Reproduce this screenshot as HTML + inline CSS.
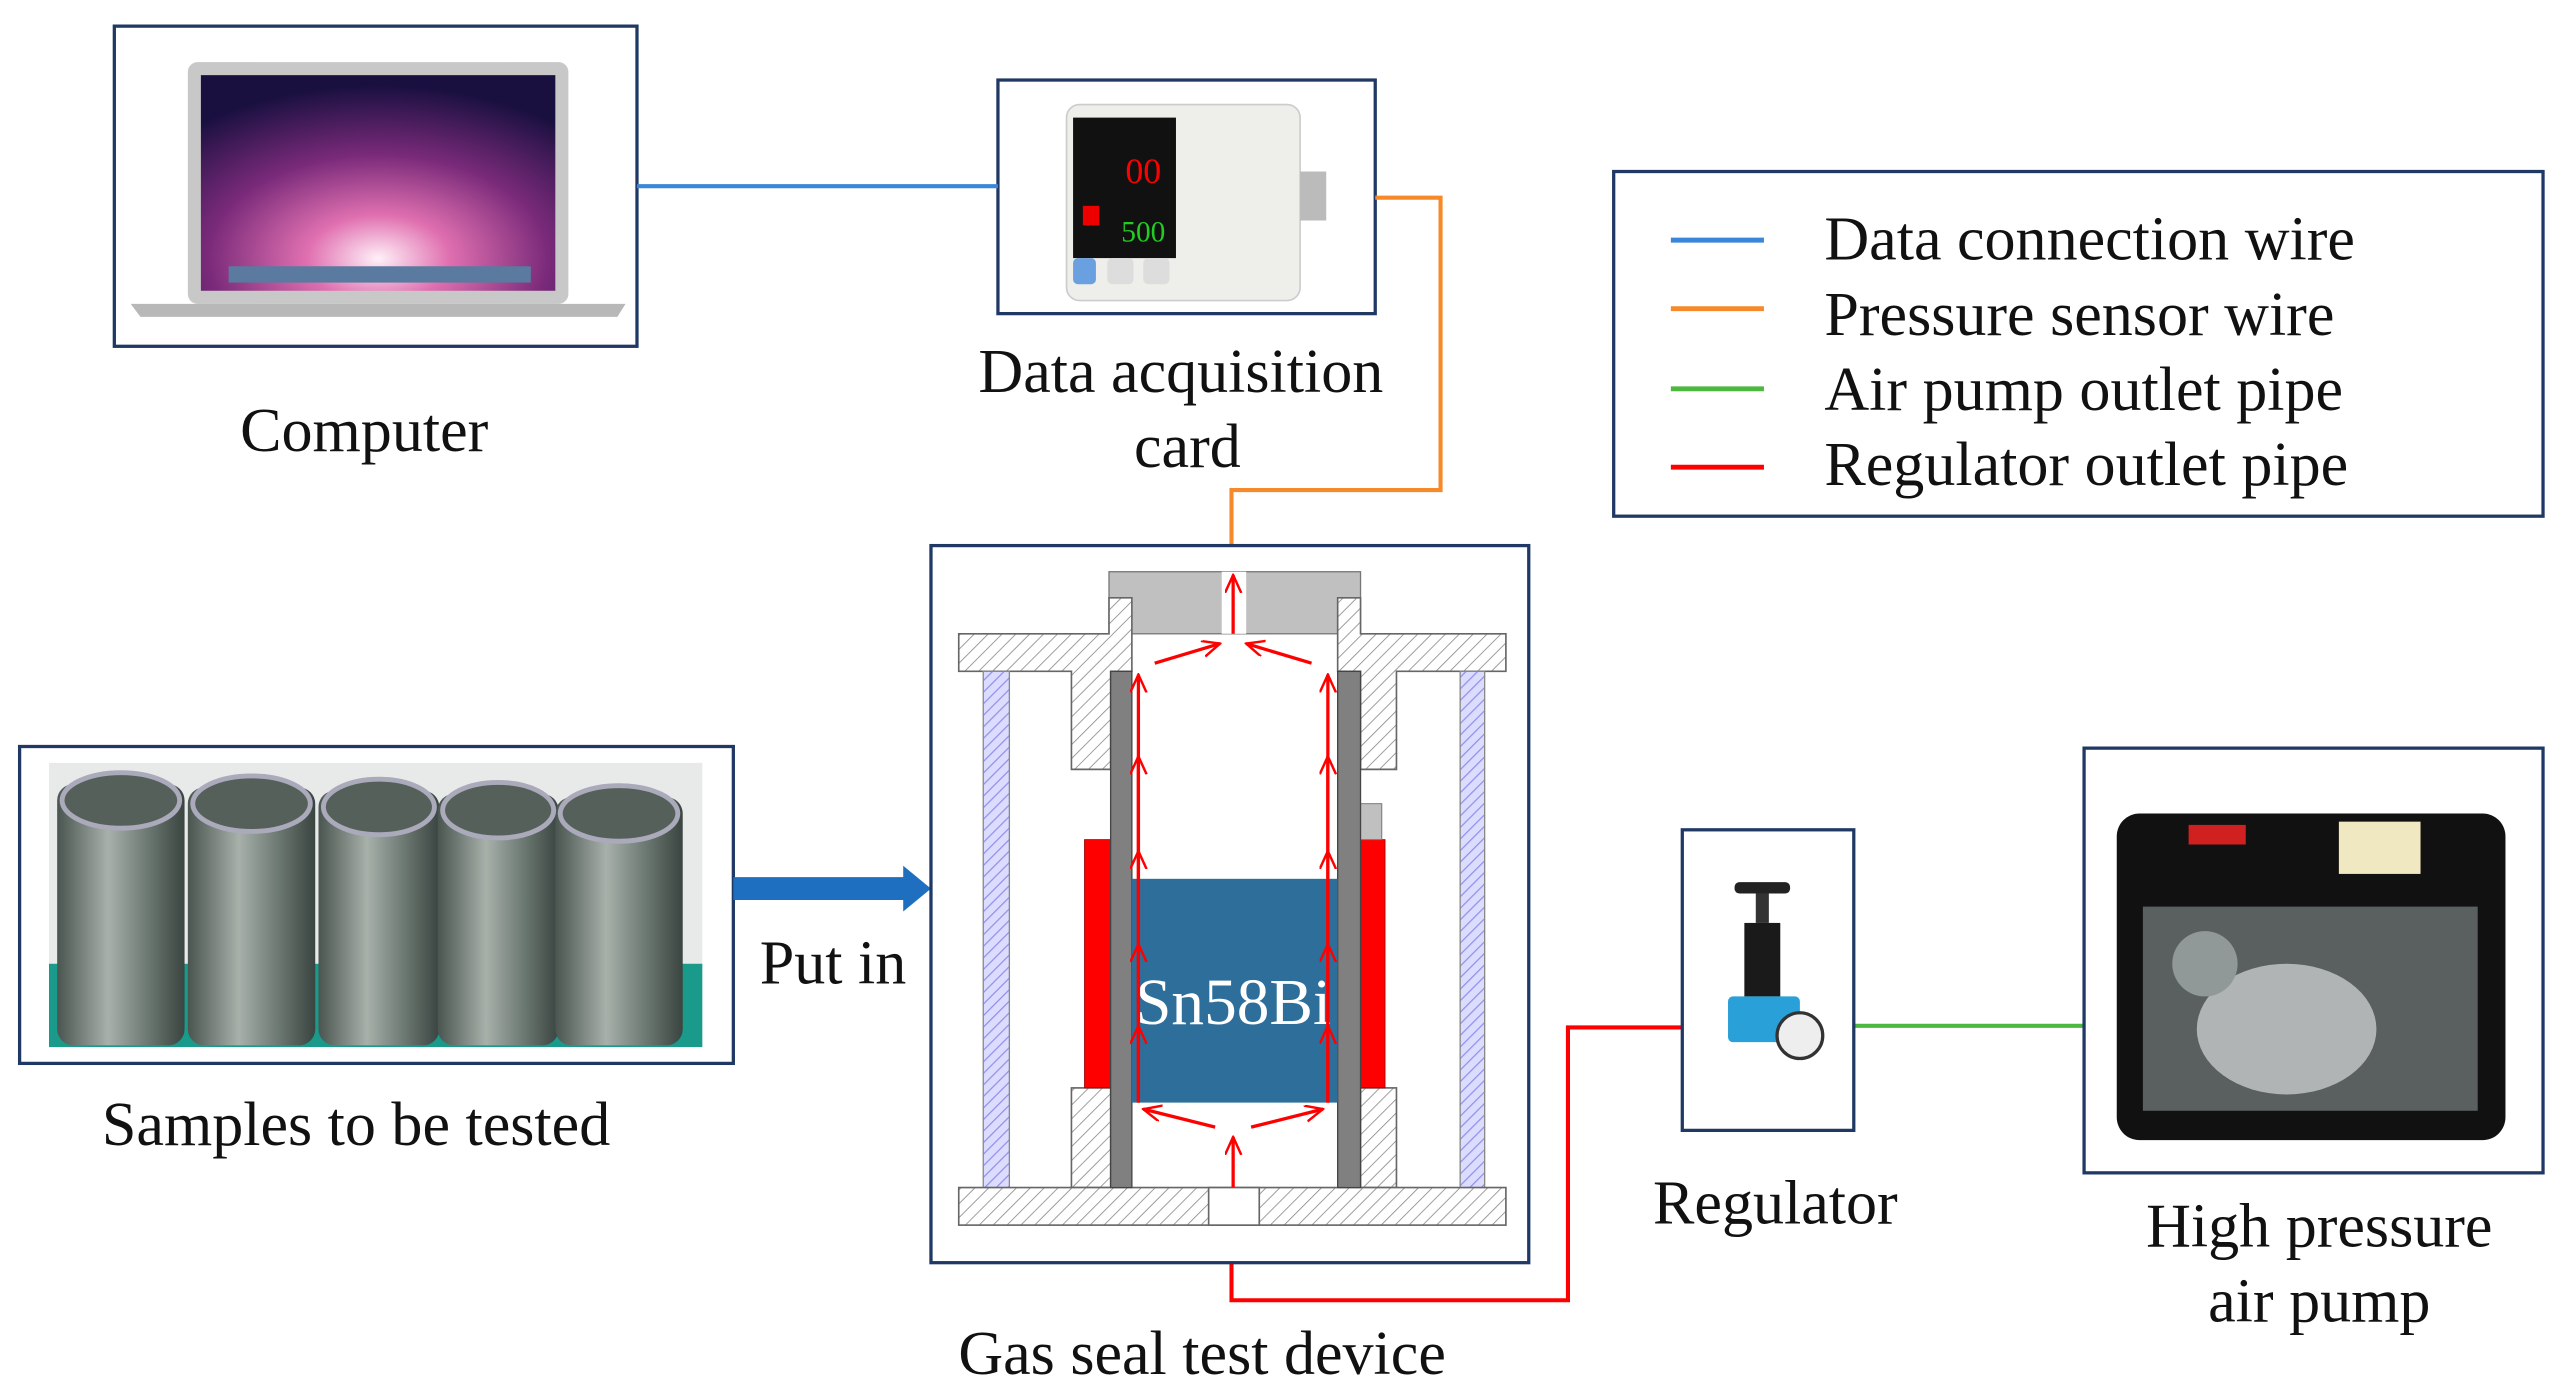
<!DOCTYPE html>
<html><head><meta charset="utf-8"><style>
html,body{margin:0;padding:0;background:#fff;}
svg{display:block;}
text{font-family:"Liberation Serif",serif;fill:#111;}
</style></head><body>
<svg width="2561" height="1395" viewBox="0 0 1568 854" preserveAspectRatio="none" xmlns="http://www.w3.org/2000/svg">
<defs>
<pattern id="h" width="6" height="6" patternUnits="userSpaceOnUse" patternTransform="rotate(45)">
<rect width="6" height="6" fill="#fff"/><line x1="0" y1="0" x2="0" y2="6" stroke="#888" stroke-width="1"/></pattern>
<pattern id="hb" width="5" height="5" patternUnits="userSpaceOnUse" patternTransform="rotate(45)">
<rect width="5" height="5" fill="#dcdcff"/><line x1="0" y1="0" x2="0" y2="5" stroke="#9090e8" stroke-width="1.5"/></pattern>
<radialGradient id="gal" cx="0.5" cy="0.85" r="0.8"><stop offset="0" stop-color="#fff0f8"/><stop offset="0.25" stop-color="#e070b0"/><stop offset="0.6" stop-color="#7a2a7a"/><stop offset="1" stop-color="#1a1040"/></radialGradient>
<linearGradient id="tube" x1="0" x2="1"><stop offset="0" stop-color="#4a5550"/><stop offset="0.4" stop-color="#a8b0aa"/><stop offset="0.7" stop-color="#6e7a74"/><stop offset="1" stop-color="#3a4440"/></linearGradient>
<marker id="ar" markerWidth="12" markerHeight="12" refX="11" refY="5" orient="auto" markerUnits="userSpaceOnUse"><path d="M0,0 L11,5 L0,10" fill="none" stroke="#f00" stroke-width="1.5"/></marker>
</defs>

<!-- Computer -->
<rect x="70" y="16" width="320" height="196" fill="#fff" stroke="#1f3864" stroke-width="2"/>
<rect x="115" y="38" width="233" height="148" rx="6" fill="#c8c8c8"/>
<rect x="123" y="46" width="217" height="132" fill="url(#gal)"/>
<rect x="140" y="163" width="185" height="10" fill="#5a7aa0"/>
<path d="M80,186 L383,186 L378,194 L86,194 Z" fill="#b8b8b8"/>
<text x="223" y="276" font-size="38" text-anchor="middle">Computer</text>

<!-- Data acquisition card -->
<rect x="611" y="49" width="231" height="143" fill="#fff" stroke="#1f3864" stroke-width="2"/>
<rect x="653" y="64" width="143" height="120" rx="8" fill="#eeeeea" stroke="#ccc"/>
<rect x="657" y="72" width="63" height="86" fill="#111"/>
<text x="700" y="112" font-size="22" text-anchor="middle" style="fill:#f00">00</text>
<text x="700" y="148" font-size="18" style="fill:#2c2" text-anchor="middle">500</text>
<rect x="663" y="126" width="10" height="12" fill="#e00"/>
<rect x="657" y="158" width="14" height="16" rx="3" fill="#6aa0e0"/>
<rect x="678" y="158" width="16" height="16" rx="3" fill="#ddd"/>
<rect x="700" y="158" width="16" height="16" rx="3" fill="#ddd"/>
<rect x="796" y="105" width="16" height="30" fill="#bbb"/>
<text x="723" y="240" font-size="38" text-anchor="middle">Data acquisition</text>
<text x="727" y="286" font-size="38" text-anchor="middle">card</text>

<!-- Legend -->
<rect x="988" y="105" width="569" height="211" fill="#fff" stroke="#1f3864" stroke-width="2"/>
<line x1="1023" y1="147" x2="1080" y2="147" stroke="#3a86d8" stroke-width="3"/>
<line x1="1023" y1="189" x2="1080" y2="189" stroke="#f68a2a" stroke-width="3"/>
<line x1="1023" y1="238" x2="1080" y2="238" stroke="#4cb840" stroke-width="3"/>
<line x1="1023" y1="286" x2="1080" y2="286" stroke="#f00" stroke-width="3"/>
<text x="1117" y="159" font-size="38">Data connection wire</text>
<text x="1117" y="205" font-size="38">Pressure sensor wire</text>
<text x="1117" y="251" font-size="38">Air pump outlet pipe</text>
<text x="1117" y="297" font-size="38">Regulator outlet pipe</text>

<!-- Wires -->
<line x1="390" y1="114" x2="611" y2="114" stroke="#3a86d8" stroke-width="2.5"/>
<polyline points="842,121 882,121 882,300 754,300 754,352" fill="none" stroke="#f68a2a" stroke-width="2.5"/>
<line x1="1135" y1="628" x2="1276" y2="628" stroke="#4cb840" stroke-width="2.5"/>
<polyline points="1030,629 960,629 960,796 754,796 754,735" fill="none" stroke="#f00" stroke-width="2.5"/>

<!-- Samples -->
<rect x="12" y="457" width="437" height="194" fill="#fff" stroke="#1f3864" stroke-width="2"/>
<rect x="30" y="467" width="400" height="174" fill="#e8eaea"/>
<rect x="30" y="590" width="400" height="51" fill="#1a9a8a"/>
<rect x="35" y="480" width="78" height="160" rx="10" fill="url(#tube)"/>
<rect x="115" y="482" width="78" height="158" rx="10" fill="url(#tube)"/>
<rect x="195" y="484" width="74" height="156" rx="10" fill="url(#tube)"/>
<rect x="268" y="486" width="74" height="154" rx="10" fill="url(#tube)"/>
<rect x="340" y="488" width="78" height="152" rx="10" fill="url(#tube)"/>
<ellipse cx="74" cy="490" rx="36" ry="17" fill="#56605a" stroke="#aab" stroke-width="3"/>
<ellipse cx="154" cy="492" rx="36" ry="17" fill="#56605a" stroke="#aab" stroke-width="3"/>
<ellipse cx="232" cy="494" rx="34" ry="17" fill="#56605a" stroke="#aab" stroke-width="3"/>
<ellipse cx="305" cy="496" rx="34" ry="17" fill="#56605a" stroke="#aab" stroke-width="3"/>
<ellipse cx="379" cy="498" rx="36" ry="17" fill="#56605a" stroke="#aab" stroke-width="3"/>
<text x="218" y="701" font-size="38" text-anchor="middle">Samples to be tested</text>

<!-- Put in arrow -->
<path d="M449,537 L553,537 L553,530 L570,544 L553,558 L553,551 L449,551 Z" fill="#1f6fc0"/>
<text x="510" y="602" font-size="38" text-anchor="middle">Put in</text>

<!-- Device -->
<rect x="570" y="334" width="366" height="439" fill="#fff" stroke="#1f3864" stroke-width="2"/>
<rect x="679" y="350" width="154" height="38" fill="#c0c0c0" stroke="#777" stroke-width="0.8"/>
<rect x="748" y="350" width="15" height="38" fill="#fff"/>
<path d="M587,388 L679,388 L679,366 L693,366 L693,411 L680,411 L680,471 L656,471 L656,411 L587,411 Z" fill="url(#h)" stroke="#666" stroke-width="1"/>
<path d="M922,388 L833,388 L833,366 L819,366 L819,411 L833,411 L833,471 L855,471 L855,411 L922,411 Z" fill="url(#h)" stroke="#666" stroke-width="1"/>
<rect x="602" y="411" width="16" height="316" fill="url(#hb)" stroke="#888" stroke-width="0.8"/>
<rect x="894" y="411" width="15" height="316" fill="url(#hb)" stroke="#888" stroke-width="0.8"/>
<rect x="656" y="666" width="24" height="61" fill="url(#h)" stroke="#666" stroke-width="1"/>
<rect x="833" y="666" width="22" height="61" fill="url(#h)" stroke="#666" stroke-width="1"/>
<rect x="587" y="727" width="335" height="23" fill="url(#h)" stroke="#666" stroke-width="1"/>
<rect x="740" y="727" width="31" height="23" fill="#fff" stroke="#666" stroke-width="1"/>
<rect x="664" y="514" width="16" height="152" fill="#f00" stroke="#900" stroke-width="0.5"/>
<rect x="833" y="514" width="15" height="152" fill="#f00" stroke="#900" stroke-width="0.5"/>
<rect x="833" y="492" width="13" height="22" fill="#c0c0c0" stroke="#777" stroke-width="0.6"/>
<rect x="680" y="411" width="13" height="316" fill="#808080" stroke="#444" stroke-width="0.8"/>
<rect x="819" y="411" width="14" height="316" fill="#808080" stroke="#444" stroke-width="0.8"/>
<rect x="693" y="538" width="126" height="137" fill="#2e6e9a"/>
<text x="755" y="627" font-size="40" text-anchor="middle" style="fill:#fff">Sn58Bi</text>
<g stroke="#f00" stroke-width="2" fill="none">
<line x1="697" y1="675" x2="697" y2="413" marker-end="url(#ar)"/>
<line x1="697" y1="675" x2="697" y2="628" marker-end="url(#ar)"/>
<line x1="697" y1="628" x2="697" y2="578" marker-end="url(#ar)"/>
<line x1="697" y1="578" x2="697" y2="521" marker-end="url(#ar)"/>
<line x1="697" y1="521" x2="697" y2="463" marker-end="url(#ar)"/>
<line x1="813" y1="675" x2="813" y2="413" marker-end="url(#ar)"/>
<line x1="813" y1="675" x2="813" y2="628" marker-end="url(#ar)"/>
<line x1="813" y1="628" x2="813" y2="578" marker-end="url(#ar)"/>
<line x1="813" y1="578" x2="813" y2="521" marker-end="url(#ar)"/>
<line x1="813" y1="521" x2="813" y2="463" marker-end="url(#ar)"/>
<line x1="707" y1="406" x2="747" y2="394" marker-end="url(#ar)"/>
<line x1="803" y1="406" x2="763" y2="394" marker-end="url(#ar)"/>
<line x1="755" y1="388" x2="755" y2="352" marker-end="url(#ar)"/>
<line x1="755" y1="727" x2="755" y2="696" marker-end="url(#ar)"/>
<line x1="744" y1="690" x2="700" y2="679" marker-end="url(#ar)"/>
<line x1="766" y1="690" x2="810" y2="679" marker-end="url(#ar)"/>
</g>
<text x="736" y="841" font-size="38" text-anchor="middle">Gas seal test device</text>

<!-- Regulator -->
<rect x="1030" y="508" width="105" height="184" fill="#fff" stroke="#1f3864" stroke-width="2"/>
<rect x="1062" y="540" width="34" height="7" rx="3" fill="#222"/>
<rect x="1075" y="547" width="8" height="18" fill="#333"/>
<rect x="1068" y="565" width="22" height="45" fill="#1a1a1a"/>
<rect x="1058" y="610" width="44" height="28" rx="3" fill="#2aa0d8"/>
<circle cx="1102" cy="634" r="14" fill="#eee" stroke="#333" stroke-width="2"/>
<text x="1087" y="749" font-size="38" text-anchor="middle">Regulator</text>

<!-- Pump -->
<rect x="1276" y="458" width="281" height="260" fill="#fff" stroke="#1f3864" stroke-width="2"/>
<rect x="1296" y="498" width="238" height="200" rx="14" fill="#111"/>
<rect x="1312" y="555" width="205" height="125" fill="#5a6060"/>
<ellipse cx="1400" cy="630" rx="55" ry="40" fill="#b0b4b4"/>
<circle cx="1350" cy="590" r="20" fill="#909898"/>
<rect x="1340" y="505" width="35" height="12" fill="#d02020"/>
<rect x="1432" y="503" width="50" height="32" fill="#f0e8c0"/>
<text x="1420" y="763" font-size="38" text-anchor="middle">High pressure</text>
<text x="1420" y="809" font-size="38" text-anchor="middle">air pump</text>
</svg>
</body></html>
